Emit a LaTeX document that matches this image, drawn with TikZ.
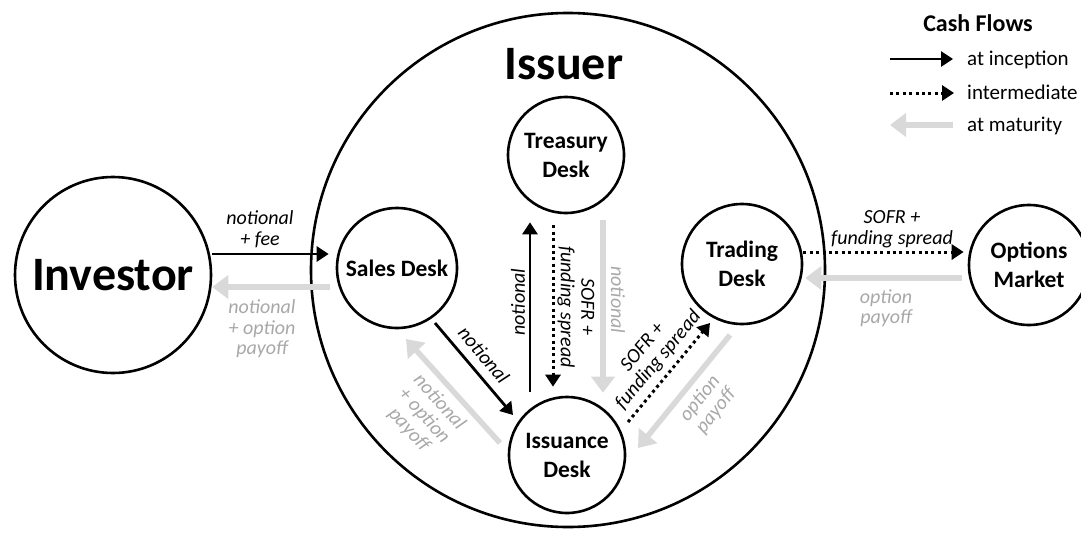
\documentclass[tikz,border=0pt]{standalone}
\usepackage{fontspec}
\setmainfont{Carlito}
\usetikzlibrary{arrows.meta,calc}
\definecolor{matgray}{RGB}{217,217,217}
\definecolor{labgray}{RGB}{168,168,168}
\begin{document}
\begin{tikzpicture}[x=1pt,y=-1pt,
  ring/.style={circle,draw,line width=2.6pt,inner sep=0pt,align=center},
  desk/.style={ring,minimum size=#1,font=\fontsize{23.5}{29}\selectfont\bfseries},
  bigfont/.style={font=\fontsize{48}{50}\selectfont\bfseries},
  inc/.style={line width=2.8pt,-{Triangle[length=12pt,width=15pt]}},
  mid/.style={line width=3pt,dash pattern=on 3pt off 3.4pt,-{Triangle[length=12pt,width=15pt]}},
  mat/.style={matgray,line width=5.5pt,-{Triangle[length=16pt,width=23pt]}},
  lab/.style={font=\fontsize{20}{20.5}\selectfont\itshape,align=center,inner sep=0pt},
  glab/.style={lab,text=labgray},
  legtext/.style={anchor=base west,inner sep=0pt,font=\fontsize{21}{24}\selectfont}]

\useasboundingbox (0,0) rectangle (1081,533);

% circles
\node[ring,minimum size=514pt] (issuer) at (568,270) {};
\node[bigfont] (issuertitle) at (564,64) {Issuer};
\node[ring,minimum size=196pt,bigfont] (inv) at (113,275) {Investor};
\node[desk=120pt] (sales) at (397,268) {Sales Desk};
\node[desk=116pt] (trea) at (566,155) {Treasury\\Desk};
\node[desk=116pt] (issu) at (567,455) {Issuance\\Desk};
\node[desk=120pt] (trad) at (742,264) {Trading\\Desk};
\node[desk=120pt] (opt) at (1029,265) {Options\\Market};

% horizontal flows
\draw[inc] (inv.east |- 0,254) -- ($(sales.west |- 0,254)+(-7,0)$);
\draw[mat] ($(sales.west |- 0,287)+(-6,0)$) -- (inv.east |- 0,287);
\draw[mid] (trad.east |- 0,252) -- ($(opt.west |- 0,252)+(-4,0)$);
\draw[mat] ($(opt.west |- 0,278)+(-6,0)$) -- ($(trad.east |- 0,278)+(2,0)$);

% vertical flows
\draw[inc] ($(issu.north -| 530,0)+(0,-4)$) -- ($(trea.south -| 530,0)+(0,8)$);
\draw[mid] ($(trea.south -| 553,0)+(0,11)$) -- ($(issu.north -| 553,0)+(0,-9)$);
\draw[mat] ($(trea.south -| 603,0)+(0,6)$) -- ($(issu.north -| 603,0)+(0,-3)$);

% diagonal flows
\draw[inc] ($(sales)+(38,55)$) -- ($(issu)+(-54,-40)$);
\draw[mat] ($(issu)+(-67,-12)$) -- ($(sales)+(9,71)$);
\draw[mid] ($(issu)+(61,-33)$) -- ($(trad)+(-32,59)$);
\draw[mat] ($(trad)+(-12,71)$) -- ($(issu)+(71,-7)$);

% labels
\node[lab] (lnf) at (260,229) {notional\\+ fee};
\node[glab] (lnop) at (262,329) {notional\\+ option\\payoff};
\node[lab] (lsofrh) at (892,229) {SOFR +\\funding spread};
\node[glab] (loph) at (886,308) {option\\payoff};
\node[lab,rotate=90] (lnv) at (518,302) {notional};
\node[lab,rotate=-90] (lsv) at (576,307) {SOFR +\\funding spread};
\node[glab,rotate=-90] (lgv) at (618,300) {notional};
\node[lab,rotate=-49.7] (lnd) at (484,355) {notional};
\node[glab,rotate=-48] (lgd) at (424,416) {notional\\+ option\\payoff};
\node[lab,rotate=50] (lsd) at (651,354) {SOFR +\\funding spread};
\node[glab,rotate=51] (lopd) at (708,405) {option\\payoff};

% legend
\node[font=\fontsize{24}{28}\selectfont\bfseries] (legtitle) at (978,23) {Cash Flows};
\node[legtext] (leg1) at (967,65) {at inception};
\node[legtext] (leg2) at (967,99) {intermediate};
\node[legtext] (leg3) at (967,131) {at maturity};
\coordinate (l1a) at (890,59);  \coordinate (l1b) at (953,59);
\coordinate (l2a) at (890,93);  \coordinate (l2b) at (954,93);
\coordinate (l3a) at (890,125); \coordinate (l3b) at (953,125);
\draw[inc] (l1a) -- (l1b);
\draw[mid] (l2a) -- (l2b);
\draw[mat] (l3b) -- (l3a);
\end{tikzpicture}
\end{document}
